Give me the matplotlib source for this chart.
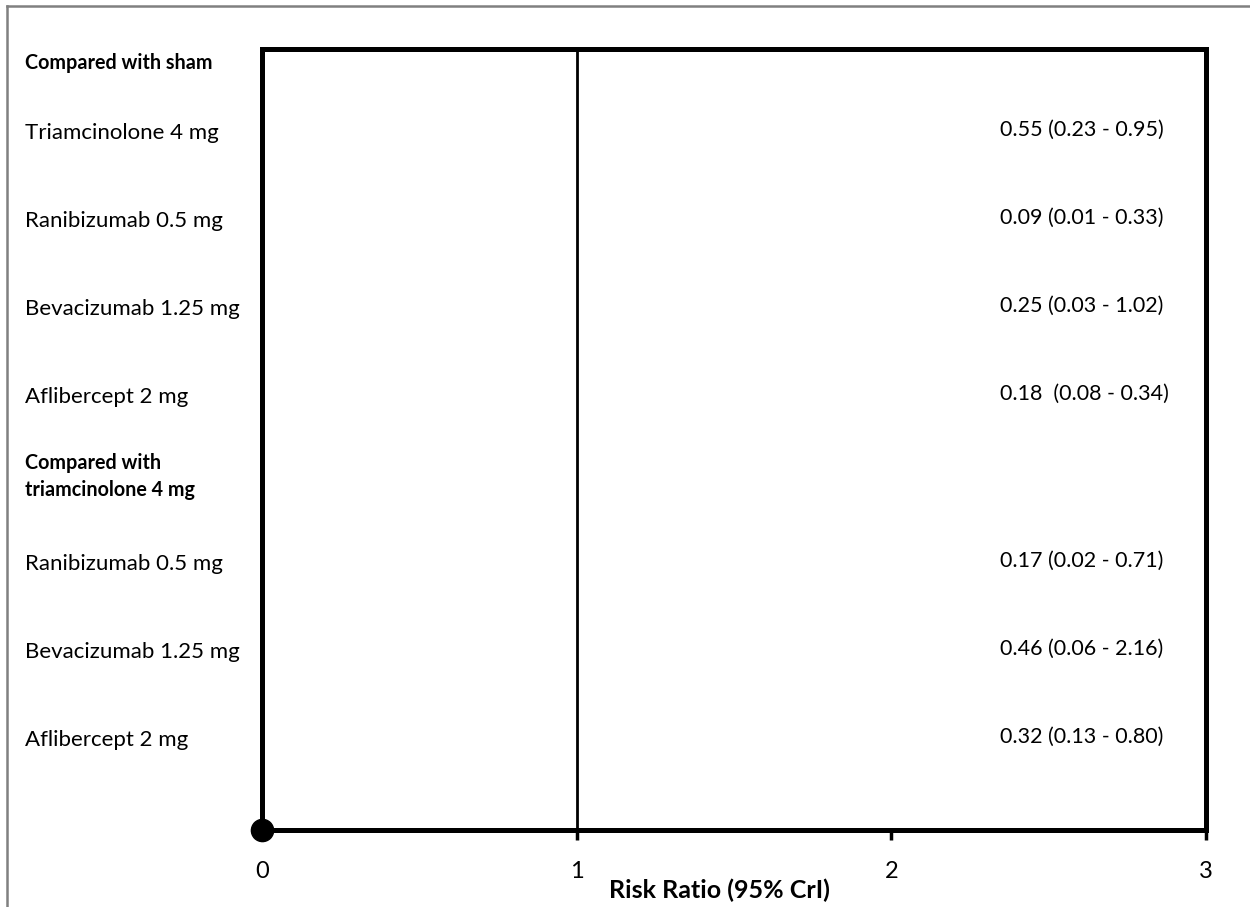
import matplotlib
matplotlib.use("Agg")
import matplotlib.pyplot as plt
from matplotlib.lines import Line2D
from matplotlib.transforms import blended_transform_factory

plt.rcParams['font.family'] = ['Lato', 'DejaVu Sans']

# Row labels (left column) and their row positions
headings = ["Compared with sham", "Compared with\ntriamcinolone 4 mg"]
heading_rows = [0.2, 4.9]

comparisons = ["Triamcinolone 4 mg", "Ranibizumab 0.5 mg", "Bevacizumab 1.25 mg",
               "Aflibercept 2 mg", "Ranibizumab 0.5 mg", "Bevacizumab 1.25 mg",
               "Aflibercept 2 mg"]
rows = [1, 2, 3, 4, 5.9, 6.9, 7.9]

# Risk ratios with 95% credible intervals
rr = [0.55, 0.09, 0.25, 0.18, 0.17, 0.46, 0.32]
lo = [0.23, 0.01, 0.03, 0.08, 0.02, 0.06, 0.13]
hi = [0.95, 0.33, 1.02, 0.34, 0.71, 2.16, 0.80]
value_gap = ["", "", "", " ", "", "", ""]

xticks = [0, 1, 2, 3]
origin_x = [0]
origin_y = [0]

fig = plt.figure(figsize=(12.5, 9.07), dpi=100)
ax = fig.add_axes([262 / 1250, 1 - 830 / 907, (1206 - 262) / 1250, (830 - 49) / 907])

ax.set_xlim(0, 3)
ax.set_ylim(8.92, 0.04)

for s in ax.spines.values():
    s.set_linewidth(3.6)
    s.set_color("black")

ax.set_xticks(xticks)
ax.set_xticklabels([str(t) for t in xticks])
ax.tick_params(axis='x', direction='out', length=7, width=2.5, pad=15, labelsize=17)
ax.set_yticks([])

# Line of no effect
ax.axvline(1, color="black", lw=2)

# Origin marker of the scatter series
ax.plot(origin_x, [ax.get_ylim()[0] + y for y in origin_y], 'o', color="black",
        markersize=16, clip_on=False, zorder=5)

ax.set_xlabel("Risk Ratio (95% CrI)", fontsize=18, fontweight="bold")
ax.xaxis.set_label_coords(0.485, -0.062)

blend = blended_transform_factory(fig.transFigure, ax.transData)
label_x = 25 / 1250
for h, r in zip(headings, heading_rows):
    ax.text(label_x, r, h, transform=blend, ha="left", va="center",
            fontsize=14.2, fontweight="bold", linespacing=1.45)

for name, r in zip(comparisons, rows):
    ax.text(label_x, r, name, transform=blend, ha="left", va="center", fontsize=16)

for v, l, h, g, r in zip(rr, lo, hi, value_gap, rows):
    ax.text(0.8, r - 0.04, f"{v:.2f}{g} ({l:.2f} - {h:.2f})", transform=blend,
            ha="left", va="center", fontsize=15.5)

# Page frame
fig.add_artist(Line2D([7 / 1250, 7 / 1250], [0, 1 - 6 / 907], transform=fig.transFigure,
                      color="#808080", lw=1.8))
fig.add_artist(Line2D([7 / 1250, 1], [1 - 6 / 907, 1 - 6 / 907], transform=fig.transFigure,
                      color="#808080", lw=1.8))

fig.savefig("out.png", dpi=100)
